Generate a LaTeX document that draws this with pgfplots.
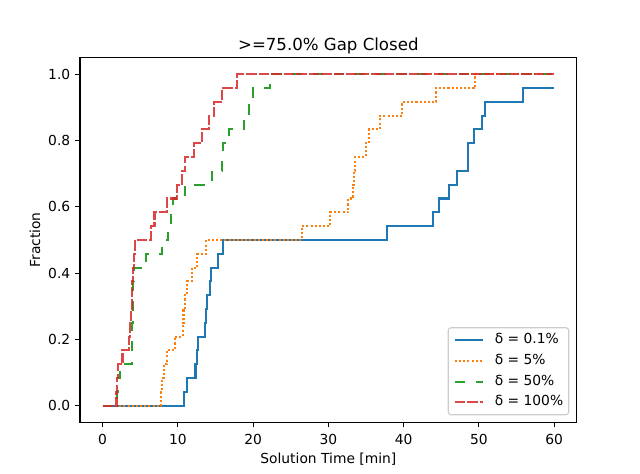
\documentclass[border=0pt]{standalone}
\usepackage{fontspec}
\setmainfont{DejaVu Sans}
\usepackage{pgfplots}
\pgfplotsset{compat=1.18}
\definecolor{cblue}{HTML}{1F77B4}
\definecolor{corange}{HTML}{FF7F0E}
\definecolor{cgreen}{HTML}{2CA02C}
\definecolor{cred}{HTML}{D62728}
\begin{document}
\begin{tikzpicture}
\path[use as bounding box] (-57.6bp,-37.2bp) rectangle (403.2bp,304bp);
\begin{axis}[
  at={(0,0)}, anchor=south west,
  width=357.6bp, height=262.5bp, scale only axis,
  xmin=-3, xmax=63, ymin=-0.05, ymax=1.05,
  xtick={0,10,20,30,40,50,60},
  ytick={0,0.2,0.4,0.6,0.8,1.0},
  yticklabel style={/pgf/number format/.cd, fixed, fixed zerofill, precision=1},
  xticklabel style={yshift=-1.5bp},
  /pgf/number format/assume math mode=true,
  tick align=outside, tick pos=left,
  major tick length=3.5bp,
  every tick/.style={black, line width=0.8bp},
  axis line style={line width=0.8bp},
  tick label style={font=\fontsize{10}{12}\selectfont},
  title={>=75.0\% Gap Closed},
  title style={font=\fontsize{12}{14.4}\selectfont, at={(axis description cs:0.5,1)}, anchor=south, yshift=-3.4bp, inner sep=0pt},
  xlabel={Solution Time [min]},
  xlabel style={at={(axis description cs:0.5,-0.1007)}, anchor=center, font=\fontsize{10}{12}\selectfont},
  ylabel={Fraction},
  ylabel style={at={(axis description cs:-0.0906,0.5)}, anchor=center, font=\fontsize{10}{12}\selectfont},
  legend cell align=left,
  legend image code/.code={\draw[#1] (0bp,0bp) -- (20bp,0bp);},
  legend style={at={(1,0)}, anchor=south east, xshift=-5.3bp, yshift=5bp,
    draw=black!20, line width=0.8bp, rounded corners=2bp, fill=white,
    inner xsep=4bp, inner ysep=4bp, row sep=5bp, column sep=8bp,
    font=\fontsize{10}{12}\selectfont,
    nodes={inner sep=0pt, text height=7.5bp, text depth=2.4bp}},
  const plot,
  every axis plot/.append style={line width=1.5bp},
]
\addplot[cblue] coordinates {(0,0) (10.85,0.041667) (11.25,0.083333) (12.35,0.125) (12.5,0.166667) (12.65,0.208333) (13.65,0.25) (13.75,0.291667) (13.85,0.333333) (14.25,0.375) (14.35,0.416667) (15.3,0.458333) (16.05,0.5) (37.85,0.541667) (43.95,0.583333) (44.75,0.625) (46.05,0.666667) (47.05,0.708333) (48.55,0.75) (48.6,0.791667) (49.35,0.833333) (50.45,0.875) (50.85,0.916667) (55.85,0.958333) (60,0.958333)};
\addlegendentry{δ = 0.1\%}
\addplot[corange, dash pattern=on 1.5bp off 1.5bp] coordinates {(0,0) (7.8,0.041667) (7.95,0.083333) (8.15,0.125) (8.55,0.166667) (9.6,0.208333) (10.65,0.25) (10.75,0.291667) (10.95,0.333333) (11.25,0.375) (11.85,0.416667) (12.6,0.458333) (13.75,0.5) (26.45,0.541667) (30.25,0.583333) (32.65,0.625) (33.25,0.666667) (33.4,0.708333) (33.6,0.75) (34.95,0.791667) (35.45,0.833333) (36.85,0.875) (39.85,0.916667) (44.35,0.958333) (49.55,1) (60,1)};
\addlegendentry{δ = 5\%}
\addplot[cgreen, dash pattern=on 7.5bp off 7.5bp] coordinates {(0,0) (1.95,0.041667) (2.05,0.083333) (2.3,0.125) (3.85,0.166667) (3.9,0.208333) (3.95,0.25) (4.0,0.291667) (4.05,0.333333) (4.1,0.375) (4.2,0.416667) (5.8,0.458333) (7.95,0.5) (8.7,0.541667) (9.1,0.583333) (9.35,0.625) (10.95,0.666667) (14.5,0.708333) (15.9,0.75) (16.0,0.791667) (16.8,0.833333) (18.75,0.875) (19.45,0.916667) (20.0,0.958333) (22.3,1) (60,1)};
\addlegendentry{δ = 50\%}
\addplot[cred, draw opacity=0.85, dash pattern=on 7.5bp off 1.5bp] coordinates {(0,0) (1.85,0.041667) (1.9,0.083333) (2.1,0.125) (2.65,0.166667) (3.55,0.208333) (3.65,0.25) (3.75,0.291667) (3.85,0.333333) (3.95,0.375) (4.05,0.416667) (4.15,0.458333) (4.3,0.5) (6.4,0.541667) (6.9,0.583333) (8.6,0.625) (9.9,0.666667) (10.5,0.708333) (11.0,0.75) (12.1,0.791667) (13.2,0.833333) (14.2,0.875) (14.8,0.916667) (15.9,0.958333) (17.9,1) (60,1)};
\addlegendentry{δ = 100\%}
\end{axis}
\end{tikzpicture}
\end{document}
